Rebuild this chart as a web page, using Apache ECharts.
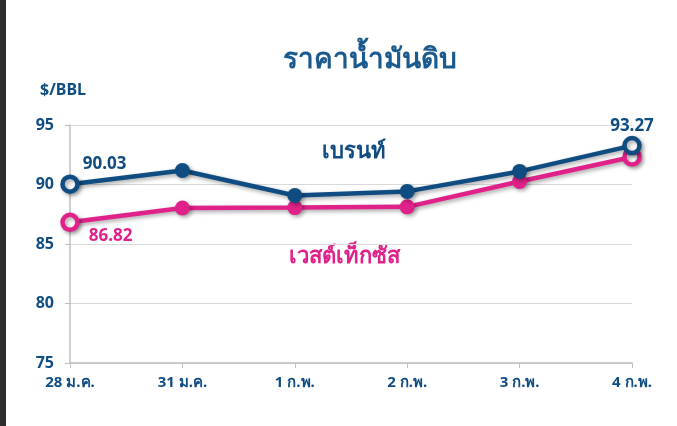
<!DOCTYPE html>
<html><head><meta charset="utf-8">
<script src="https://cdn.jsdelivr.net/npm/echarts@6/dist/echarts.min.js"></script>
<style>html,body{margin:0;padding:0;background:#fff}#c{width:677px;height:426px}</style>
</head><body><div id="c"></div>
<script>
const categories = ['28 ม.ค.', '31 ม.ค.', '1 ก.พ.', '2 ก.พ.', '3 ก.พ.', '4 ก.พ.'];
const brent = [90.03, 91.18, 89.08, 89.42, 91.10, 93.27];
const wti = [86.82, 88.02, 88.06, 88.12, 90.25, 92.31];
const yTicks = [75, 80, 85, 90, 95];
const titleText = 'ราคาน้ำมันดิบ';
const unitText = '$/BBL';
const brentName = 'เบรนท์';
const wtiName = 'เวสต์เท็กซัส';

const NAVY = '#0f4c81';
const PINK = '#e0218a';
const FONT = '"Noto Sans", "DejaVu Sans", sans-serif';

function mkData(arr, color) {
  return arr.map((v, i) => {
    const end = (i === 0 || i === arr.length - 1);
    return end ? {
      value: v, symbolSize: 15,
      itemStyle: {color: '#fff', borderColor: color, borderWidth: 4.5}
    } : {value: v, symbolSize: 15, itemStyle: {color: color, borderWidth: 0}};
  });
}
const shadow = {shadowColor: 'rgba(0,0,0,0.35)', shadowBlur: 4, shadowOffsetX: 2, shadowOffsetY: 2};
const lbl = (c) => ({color: c, fontWeight: 'bold', fontSize: 17, fontFamily: FONT});

const chart = echarts.init(document.getElementById('c'));
const b = mkData(brent, NAVY), w = mkData(wti, PINK);
b[0].label = Object.assign({show: true, position: 'right', offset: [-2, -20], formatter: String(brent[0])}, lbl(NAVY));
b[5].label = Object.assign({show: true, position: 'top', offset: [0, 4], formatter: String(brent[5])}, lbl(NAVY));
w[0].label = Object.assign({show: true, position: 'right', offset: [4, 14], formatter: String(wti[0])}, lbl(PINK));

chart.setOption({
  backgroundColor: '#fff',
  animation: false,
  title: {text: titleText, left: 365, top: 41, textAlign: 'center',
    textStyle: {color: '#1b5a8e', fontSize: 28, fontWeight: 'bold', fontFamily: FONT}},
  grid: {left: 70, right: 45, top: 125, bottom: 63},
  graphic: [
    {type: 'rect', left: 0, top: 0, shape: {width: 6, height: 426}, style: {fill: '#2d2d2d'}},
    {type: 'text', left: 40, top: 82, style: {text: unitText, fill: NAVY, font: 'bold 16px ' + FONT}},
    {type: 'text', left: 322, top: 141, style: {text: brentName, fill: NAVY, font: 'bold 22px ' + FONT}},
    {type: 'text', left: 289, top: 246, style: {text: wtiName, fill: PINK, font: 'bold 22px ' + FONT}}
  ],
  xAxis: {
    type: 'category', data: categories, boundaryGap: false,
    axisLine: {lineStyle: {color: '#bfbfbf', width: 1.5}},
    axisTick: {show: true, length: 5, lineStyle: {color: '#bfbfbf'}},
    axisLabel: {color: NAVY, fontWeight: 'bold', fontSize: 15, fontFamily: FONT, margin: 12,
      showMinLabel: true, showMaxLabel: true, interval: 0}
  },
  yAxis: {
    type: 'value', min: 75, max: 95, interval: 5,
    axisLine: {show: true, lineStyle: {color: '#bfbfbf', width: 1.5}},
    axisTick: {show: true, length: 5, lineStyle: {color: '#bfbfbf'}},
    splitLine: {lineStyle: {color: '#d9d9d9', width: 1}},
    axisLabel: {color: NAVY, fontWeight: 'bold', fontSize: 16, fontFamily: FONT, margin: 16,
      customValues: yTicks}
  },
  series: [
    {name: brentName, type: 'line', data: b, symbol: 'circle', z: 3,
      lineStyle: Object.assign({color: NAVY, width: 4.5}, shadow),
      itemStyle: Object.assign({color: NAVY}, shadow)},
    {name: wtiName, type: 'line', data: w, symbol: 'circle', z: 2,
      lineStyle: Object.assign({color: PINK, width: 4.5}, shadow),
      itemStyle: Object.assign({color: PINK}, shadow)}
  ]
});
</script></body></html>
